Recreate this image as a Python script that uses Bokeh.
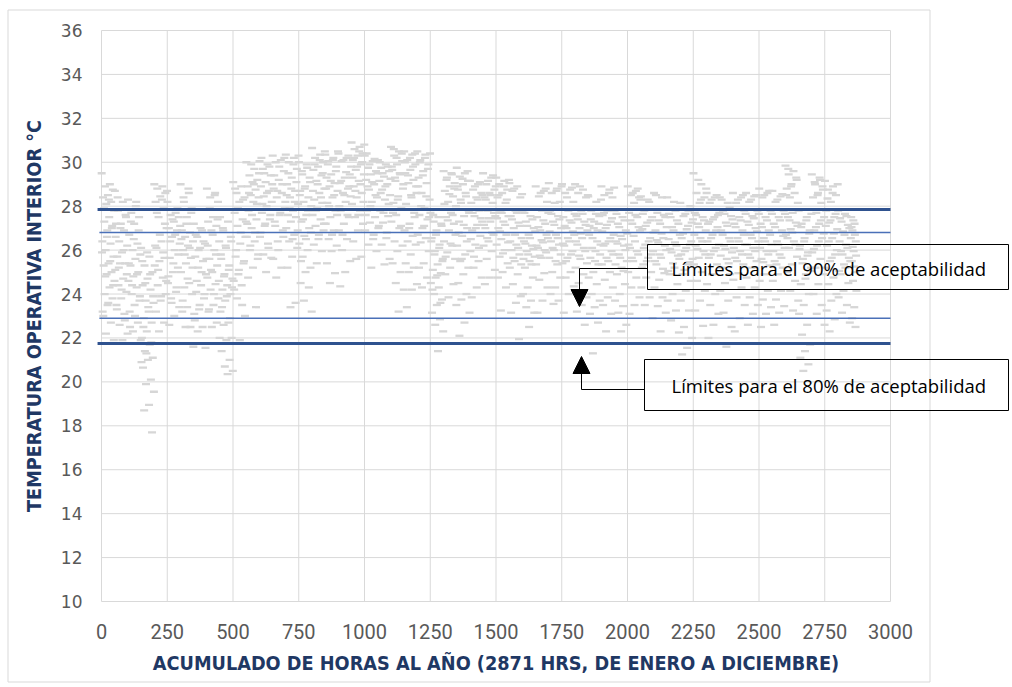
import numpy as np
from bokeh.plotting import figure
from bokeh.models import (Range1d, BoxAnnotation, Label, Arrow, NormalHead,
                          ColumnDataSource, FixedTicker, LinearAxis)
from bokeh.embed import file_html
from bokeh.resources import INLINE

# ---------------- data ----------------
# temperatures (°C) observed in each 50-hour block of the accumulated hours
t0000 = [29.5, 29.0, 28.9, 28.75, 28.5, 28.4, 28.2, 28.1, 27.8, 27.5, 27.3, 27.1, 26.9, 26.4, 26.3, 26.0, 25.7, 25.4, 25.3, 25.0, 24.9, 24.6, 24.3, 24.0, 23.8, 23.5, 23.2, 22.7, 22.2, 21.9,
         28.3, 27.9, 27.0, 26.6, 25.9, 25.5, 24.8, 24.4, 23.6, 23.0]
t0050 = [28.7, 28.2, 27.8, 27.5, 27.2, 27.2, 26.9, 26.4, 26.2, 25.9, 25.7, 25.4, 25.4, 25.1, 24.7, 24.4, 24.1, 23.8, 23.5, 23.1, 22.6, 22.2, 21.9,
         28.4, 27.6, 27.0, 26.6, 26.0, 25.2, 24.9, 24.2, 23.3, 22.8]
t0100 = [28.3, 28.2, 27.7, 27.5, 27.2, 26.7, 26.3, 26.0, 25.8, 25.6, 25.3, 25.0, 24.8, 24.6, 24.3, 24.0, 23.7, 23.5, 23.2, 22.7, 22.3, 21.9,
         28.0, 27.3, 26.9, 26.5, 25.4, 24.9, 24.4, 23.9, 23.0, 22.5]
t0150 = [26.1, 25.7, 25.3, 25.0, 24.7, 24.4, 24.2, 23.7, 23.6, 23.2, 22.9, 22.7, 22.3, 22.0, 21.7, 21.4, 21.1, 21.0, 20.65, 20.1, 19.9, 19.55, 18.95, 18.7, 17.7,
         25.9, 25.5, 24.9, 24.5, 23.9, 23.4, 22.5, 21.8, 21.3, 20.9]
t0200 = [29.0, 28.9, 28.8, 28.6, 28.45, 28.2, 27.9, 27.5, 27.0, 26.4, 26.1, 25.65, 25.5, 25.3, 24.75, 24.4, 24.0, 23.7, 23.2, 22.7, 22.3,
         28.7, 28.3, 27.7, 27.2, 26.7, 26.2, 25.9, 25.1, 24.6, 23.9]
t0250 = [28.2, 27.7, 27.6, 27.5, 27.3, 27.0, 26.9, 26.6, 26.3, 26.0, 25.65, 25.2, 25.0, 24.5, 24.1, 23.8, 23.4, 23.0, 22.6,
         27.9, 27.4, 27.1, 26.7, 26.4, 25.8, 25.4, 24.8, 24.3, 23.6]
t0300 = [29.0, 28.6, 28.2, 27.9, 27.5, 26.9, 26.8, 26.6, 26.4, 26.2, 26.0, 25.65, 25.4, 25.0, 24.5, 24.3, 24.0, 23.4, 23.2, 22.5, 22.5, 21.6,
         28.8, 28.4, 27.7, 27.2, 26.5, 26.1, 25.8, 25.2, 24.7, 23.7]
t0350 = [27.2, 26.9, 26.6, 26.3, 26.1, 25.7, 25.5, 25.2, 24.9, 24.4, 24.1, 23.8, 23.3, 23.1, 22.5, 22.3, 21.55,
         27.0, 26.7, 26.4, 26.0, 25.6, 25.0, 24.6, 24.0, 23.5, 22.8]
t0400 = [28.8, 28.6, 28.4, 28.2, 27.5, 27.3, 27.1, 26.9, 26.4, 26.0, 25.6, 25.3, 25.0, 24.75, 24.45, 24.2, 23.8, 23.5, 23.2, 22.7, 22.5, 22.0,
         28.5, 27.9, 27.4, 26.7, 26.2, 25.8, 25.1, 24.6, 24.0, 23.3]
t0450 = [27.5, 27.3, 26.9, 26.4, 26.1, 25.6, 25.3, 24.9, 24.7, 24.4, 24.2, 24.0, 23.7, 23.2, 22.7, 22.6, 22.0, 21.9, 21.4, 21.0, 20.7, 20.5, 20.35,
         27.0, 26.6, 26.2, 25.8, 25.1, 24.8, 24.3, 23.9, 23.4, 22.9]
t0500 = [29.1, 28.9, 28.6, 28.4, 28.2, 27.7, 27.4, 27.1, 26.6, 26.3, 25.7, 25.4, 24.9, 24.6, 24.4, 23.8, 23.0, 21.9,
         28.8, 28.3, 27.9, 27.3, 26.8, 26.0, 25.5, 25.1, 24.2, 23.5]
t0550 = [30.0, 29.7, 29.4, 29.2, 29.1, 28.9, 28.75, 28.5, 28.4, 28.2, 27.8, 27.4, 27.0, 26.6, 26.4, 26.0, 25.6, 25.2, 24.75, 23.4,
         29.9, 29.5, 29.0, 28.6, 28.1, 27.6, 27.2, 26.8, 26.2, 25.8]
t0600 = [30.05, 29.9, 29.7, 29.4, 29.1, 28.9, 28.7, 28.45, 28.2, 28.0, 27.7, 27.4, 27.1, 26.6, 26.3, 25.8, 25.65, 25.0,
         30.2, 29.8, 29.5, 29.0, 28.6, 28.1, 27.6, 27.2, 26.8, 26.1]
t0650 = [30.3, 30.1, 30.0, 29.6, 29.2, 28.8, 28.6, 28.4, 27.9, 27.6, 27.3, 26.9, 26.4, 25.6, 25.2, 24.75,
         30.2, 29.8, 29.4, 29.0, 28.7, 28.2, 27.7, 27.1, 26.6, 26.0]
t0700 = [30.35, 30.2, 30.0, 29.7, 29.3, 29.0, 28.7, 28.4, 28.1, 27.8, 27.6, 27.5, 27.3, 27.0, 26.7, 26.4, 26.1, 25.7, 25.2, 23.6, 23.4,
         30.3, 29.9, 29.5, 29.1, 28.8, 28.5, 28.2, 27.9, 26.9, 26.5]
t0750 = [30.0, 29.75, 29.45, 29.1, 28.9, 28.7, 28.4, 28.2, 28.0, 27.6, 27.3, 27.0, 26.65, 26.3, 26.0, 25.7, 25.2, 25.0, 24.5, 24.3, 23.7, 23.2,
         29.9, 29.6, 29.3, 28.8, 28.5, 27.8, 27.4, 26.8, 26.5, 25.5]
t0800 = [30.65, 30.35, 30.2, 30.0, 29.8, 29.65, 29.4, 29.15, 28.8, 28.6, 28.3, 28.15, 27.9, 27.6, 27.4, 27.1, 26.9, 26.5, 26.25, 25.95, 25.4,
         30.5, 30.1, 29.9, 29.5, 29.0, 28.7, 28.4, 27.8, 27.2, 26.7]
t0850 = [30.35, 30.2, 30.05, 29.8, 29.45, 29.3, 29.05, 28.9, 28.7, 28.4, 28.15, 27.8, 27.5, 27.2, 26.9, 26.5, 26.2, 25.95, 25.4, 24.95, 24.5,
         30.5, 30.1, 29.9, 29.6, 29.15, 28.8, 28.5, 28.0, 27.6, 26.7]
t0900 = [30.4, 30.2, 30.05, 29.45, 29.3, 29.05, 28.8, 28.6, 28.45, 28.2, 27.8, 27.5, 27.2, 26.9, 26.5, 26.0, 25.5, 25.0, 24.35,
         30.3, 30.1, 29.8, 29.55, 29.15, 28.9, 28.5, 28.0, 27.6, 26.7]
t0950 = [30.9, 30.7, 30.6, 30.4, 30.3, 30.1, 29.9, 29.65, 29.45, 29.15, 28.9, 28.6, 28.4, 28.1, 27.8, 27.5, 27.2, 26.9, 26.4, 25.7, 25.6,
         30.8, 30.5, 30.2, 30.0, 29.8, 29.3, 29.0, 28.7, 28.2, 27.6]
t1000 = [30.3, 30.05, 29.75, 29.6, 29.45, 29.2, 29.0, 28.75, 28.4, 28.2, 27.8, 27.5, 27.25, 26.9, 26.5, 26.25, 25.95, 25.2,
         30.4, 30.15, 29.9, 29.5, 29.1, 28.9, 28.5, 28.0, 27.6, 26.7]
t1050 = [30.1, 29.9, 29.75, 29.6, 29.35, 29.15, 29.0, 28.75, 28.5, 28.3, 27.8, 27.55, 27.25, 27.0, 26.55, 26.25, 25.6, 25.35,
         30.0, 29.8, 29.5, 29.25, 28.9, 28.6, 28.1, 27.7, 27.1, 26.8]
t1100 = [30.7, 30.5, 30.3, 30.05, 29.9, 29.65, 29.45, 29.15, 29.0, 28.45, 28.15, 27.9, 27.6, 27.3, 27.0, 26.4, 26.2, 25.95, 25.4, 25.0, 24.5, 24.2, 23.2,
         30.6, 30.4, 30.2, 29.8, 29.5, 29.3, 28.8, 28.3, 27.7, 27.1]
t1150 = [30.5, 30.35, 30.1, 29.9, 29.65, 29.5, 29.2, 29.05, 28.6, 28.4, 27.85, 27.5, 27.2, 26.9, 26.65, 26.4, 26.25, 25.8, 25.4, 25.2, 25.0, 24.45, 24.2, 23.4,
         30.4, 30.2, 30.0, 29.8, 29.4, 28.9, 28.5, 28.1, 27.7, 27.0]
t1200 = [30.5, 30.35, 30.1, 29.9, 29.6, 29.3, 29.05, 28.6, 28.3, 27.9, 27.6, 27.4, 27.0, 26.7, 26.55, 26.35, 25.95, 25.4, 25.2, 24.75, 24.3,
         30.4, 30.2, 30.0, 29.7, 29.4, 28.9, 28.45, 28.0, 27.5, 27.1]
t1250 = [27.7, 27.5, 27.3, 27.1, 26.9, 26.55, 26.25, 25.95, 25.6, 25.35, 25.1, 24.95, 24.75, 24.5, 24.3, 24.0, 23.75, 23.5, 23.15, 22.85, 22.6, 22.3, 21.4,
         27.6, 27.2, 26.7, 26.4, 26.1, 25.8, 25.5, 24.85, 24.2, 23.6]
t1300 = [29.6, 29.45, 29.3, 29.05, 28.9, 28.7, 28.45, 28.2, 28.0, 27.7, 27.5, 27.2, 26.9, 26.4, 26.2, 25.9, 25.6, 25.2, 24.9, 24.45, 23.85, 23.5,
         29.5, 29.2, 28.8, 28.55, 28.1, 27.6, 27.35, 26.7, 26.3, 25.7]
t1350 = [29.75, 29.5, 29.35, 29.15, 29.0, 28.75, 28.45, 28.15, 27.7, 27.55, 27.3, 27.0, 26.65, 26.2, 25.8, 25.5, 25.2, 24.9, 24.5, 24.0, 23.75, 23.15, 22.7, 22.1,
         29.6, 29.25, 28.9, 28.6, 28.3, 27.8, 27.15, 26.8, 26.4, 25.6]
t1400 = [29.15, 29.0, 28.75, 28.6, 28.4, 28.15, 27.8, 27.55, 27.3, 27.15, 26.9, 26.65, 26.25, 25.95, 25.5, 25.2, 24.75, 24.3, 23.85,
         29.1, 28.9, 28.5, 28.3, 27.7, 27.45, 27.0, 26.5, 26.1, 25.7]
t1450 = [29.5, 29.3, 29.0, 28.75, 28.6, 28.4, 28.15, 27.8, 27.55, 27.3, 27.0, 26.7, 26.4, 26.2, 25.95, 25.6, 25.1, 24.75, 24.45,
         29.4, 29.15, 28.9, 28.5, 28.3, 27.7, 27.45, 27.15, 26.8, 26.55]
t1500 = [29.3, 29.15, 29.0, 28.75, 28.6, 28.4, 28.15, 27.8, 27.55, 27.3, 27.0, 26.7, 26.5, 26.25, 26.0, 25.7, 25.4, 25.0, 24.75, 24.3, 23.25,
         29.2, 28.9, 28.5, 28.3, 27.7, 27.45, 27.15, 26.85, 26.35, 25.85]
t1550 = [29.05, 28.9, 28.7, 28.4, 27.8, 27.55, 27.25, 27.0, 26.55, 26.25, 26.0, 25.8, 25.5, 25.2, 24.9, 24.45, 23.9, 23.6, 23.15, 21.95,
         28.8, 28.55, 27.7, 27.4, 27.1, 26.7, 26.4, 26.1, 25.65, 25.35]
t1600 = [27.8, 27.55, 27.3, 27.0, 26.7, 26.4, 26.2, 25.95, 25.7, 25.5, 25.2, 24.75, 24.3, 24.0, 23.7, 23.4, 23.15, 22.5,
         27.7, 27.4, 27.1, 26.85, 26.55, 26.3, 26.05, 25.8, 25.6, 25.35]
t1650 = [28.9, 28.7, 28.45, 28.2, 27.8, 27.5, 27.2, 26.9, 26.55, 26.35, 26.1, 25.9, 25.65, 25.35, 24.95, 24.65, 24.3, 23.7, 23.15,
         28.8, 28.6, 27.7, 27.35, 27.05, 26.7, 26.45, 26.2, 26.0, 25.75]
t1700 = [29.05, 28.8, 28.6, 28.2, 28.15, 27.8, 27.55, 27.3, 27.0, 26.7, 26.4, 26.25, 26.0, 25.65, 25.35, 25.0, 24.75, 24.3, 24.0, 23.7, 23.55,
         28.9, 28.7, 27.65, 27.4, 27.15, 26.85, 26.55, 26.1, 25.8, 25.5]
t1750 = [29.0, 28.75, 28.6, 28.2, 27.8, 27.5, 27.25, 27.0, 26.7, 26.4, 26.2, 25.95, 25.65, 25.4, 25.0, 24.75, 24.35, 24.0, 23.15,
         28.85, 28.4, 27.65, 27.35, 27.1, 26.85, 26.55, 26.3, 25.8, 25.5]
t1800 = [29.0, 28.75, 28.6, 28.4, 27.8, 27.55, 27.3, 27.0, 26.9, 26.55, 26.25, 25.95, 25.6, 25.2, 24.9, 24.5, 23.85, 23.5, 23.2, 22.6,
         28.9, 28.5, 27.65, 27.4, 27.15, 26.75, 26.4, 26.1, 25.75, 25.4]
t1850 = [28.45, 28.2, 27.8, 27.55, 27.3, 27.1, 26.9, 26.55, 26.25, 25.95, 25.65, 25.35, 25.0, 24.75, 24.45, 24.0, 23.7, 23.4, 23.1, 22.7, 21.3,
         28.3, 27.65, 27.4, 27.2, 27.0, 26.7, 26.4, 26.1, 25.8, 25.5]
t1900 = [28.9, 28.75, 28.5, 28.4, 27.8, 27.6, 27.3, 27.0, 26.7, 26.4, 26.2, 25.95, 25.65, 25.35, 25.0, 24.65, 24.3, 23.85, 23.5, 23.1, 22.3,
         28.85, 28.6, 27.7, 27.45, 27.15, 26.85, 26.55, 26.3, 25.8, 25.5]
t1950 = [27.8, 27.5, 27.2, 26.9, 26.65, 26.4, 26.2, 25.8, 25.5, 25.2, 24.9, 24.45, 24.0, 23.7, 23.45, 23.15, 22.6, 22.3,
         27.65, 27.35, 27.05, 26.75, 26.5, 26.3, 26.0, 25.65, 25.35, 25.05]
t2000 = [28.9, 28.7, 28.5, 28.4, 28.15, 27.7, 27.5, 27.2, 26.9, 26.4, 26.1, 25.8, 25.5, 25.0, 24.75, 24.3, 23.85, 23.5, 23.1,
         28.8, 28.6, 28.3, 27.6, 27.35, 27.05, 26.65, 26.25, 25.95, 25.65]
t2050 = [28.45, 28.2, 27.8, 27.5, 27.25, 26.95, 26.55, 26.25, 25.95, 25.65, 25.35, 25.0, 24.75, 24.3, 23.85, 23.5, 22.9,
         28.3, 27.65, 27.35, 27.1, 26.8, 26.4, 26.1, 25.8, 25.5, 25.2]
t2100 = [28.6, 28.4, 27.7, 27.5, 27.2, 26.9, 26.55, 26.35, 26.0, 25.65, 25.35, 24.95, 24.65, 24.3, 23.85, 23.45, 23.15, 22.3,
         28.5, 27.6, 27.35, 27.05, 26.75, 26.45, 26.2, 25.8, 25.5, 25.15]
t2150 = [28.4, 27.8, 27.5, 27.2, 26.9, 26.5, 26.2, 25.9, 25.6, 25.2, 24.9, 24.45, 24.0, 23.7, 23.25, 22.8, 22.25,
         28.2, 27.65, 27.35, 27.05, 26.7, 26.35, 26.05, 25.75, 25.4, 25.05]
t2200 = [28.15, 27.8, 27.55, 27.25, 26.95, 26.55, 26.25, 25.95, 25.6, 25.35, 24.9, 24.6, 24.15, 23.7, 23.25, 22.5, 22.0, 21.55, 21.25,
         28.0, 27.65, 27.4, 27.1, 26.75, 26.4, 26.1, 25.8, 25.45, 25.1]
t2250 = [29.5, 29.0, 28.6, 28.4, 28.15, 27.7, 27.5, 27.2, 26.9, 26.55, 26.2, 25.95, 25.65, 25.35, 25.0, 24.6, 24.15, 23.7, 23.25, 22.55,
         29.2, 28.8, 28.3, 27.6, 27.35, 27.05, 26.7, 26.4, 26.05, 25.8]
t2300 = [28.6, 28.4, 28.15, 27.6, 27.4, 27.2, 26.9, 26.55, 26.25, 25.95, 25.65, 25.35, 24.9, 24.45, 24.0, 23.5, 23.1, 22.6, 22.0,
         28.5, 28.3, 27.7, 27.5, 27.3, 27.05, 26.7, 26.4, 26.1, 25.8]
t2350 = [28.4, 28.15, 27.8, 27.55, 27.25, 26.9, 26.55, 26.2, 25.9, 25.6, 25.2, 24.9, 24.5, 24.15, 23.7, 23.15, 22.5, 21.6,
         28.3, 27.95, 27.65, 27.4, 27.1, 26.7, 26.4, 26.05, 25.75, 25.4]
t2400 = [28.6, 28.4, 28.15, 27.8, 27.5, 27.2, 26.9, 26.55, 26.25, 25.95, 25.65, 25.35, 24.95, 24.65, 24.3, 23.85, 23.5, 22.9, 22.3,
         28.5, 28.3, 27.65, 27.35, 27.05, 26.7, 26.4, 26.1, 25.8, 25.5]
t2450 = [28.6, 28.45, 28.2, 27.8, 27.55, 27.3, 27.0, 26.7, 26.4, 26.1, 25.8, 25.5, 25.2, 24.75, 24.3, 23.85, 23.5, 23.1, 22.6,
         28.5, 28.3, 27.65, 27.45, 27.15, 26.85, 26.55, 26.25, 25.95, 25.65]
t2500 = [28.8, 28.6, 28.4, 27.8, 27.5, 27.2, 26.9, 26.55, 26.25, 25.95, 25.6, 25.3, 24.9, 24.6, 24.15, 23.75, 23.4, 23.1, 22.5,
         28.7, 28.5, 27.65, 27.35, 27.05, 26.7, 26.4, 26.1, 25.8, 25.45]
t2550 = [28.7, 28.45, 28.2, 27.8, 27.5, 27.2, 26.9, 26.4, 26.1, 25.8, 25.5, 25.2, 24.9, 24.6, 24.15, 23.75, 23.45, 23.15, 22.6,
         28.55, 28.3, 27.65, 27.35, 27.05, 26.65, 26.25, 25.95, 25.65, 25.35]
t2600 = [29.85, 29.6, 29.45, 29.2, 29.0, 28.8, 28.6, 28.4, 28.15, 27.7, 27.5, 27.25, 26.95, 26.7, 26.4, 26.1, 25.7, 25.35, 25.0, 24.6, 24.15, 23.7, 23.25,
         29.7, 29.3, 28.9, 28.5, 27.85, 27.35, 27.1, 26.8, 26.55, 26.25]
t2650 = [27.8, 27.5, 27.2, 26.9, 26.55, 26.2, 25.9, 25.6, 25.2, 24.9, 24.45, 24.0, 23.5, 23.1, 22.6, 22.15, 21.7, 21.4, 21.1, 20.8, 20.5,
         27.65, 27.35, 27.05, 26.75, 26.4, 26.05, 25.75, 25.4, 25.05, 24.7]
t2700 = [29.45, 29.2, 29.0, 28.75, 28.6, 28.4, 28.15, 27.7, 27.5, 27.2, 26.9, 26.55, 26.2, 25.9, 25.6, 25.2, 24.9, 24.45, 24.0, 23.5, 23.1, 22.6,
         29.3, 29.1, 28.9, 28.5, 27.85, 27.35, 27.05, 26.75, 26.4, 26.05]
t2750 = [29.15, 28.9, 28.75, 28.5, 28.2, 27.8, 27.5, 27.25, 26.95, 26.55, 26.2, 25.8, 25.5, 25.2, 24.75, 24.45, 24.0, 23.7, 23.25, 22.85, 22.3,
         29.0, 28.6, 28.35, 27.65, 27.35, 27.1, 26.75, 26.4, 26.0, 25.65]
t2800 = [27.8, 27.55, 27.3, 27.0, 26.7, 26.4, 26.1, 25.8, 25.5, 25.2, 24.9, 24.5, 24.15, 23.85, 23.5, 23.15, 22.7,
         27.65, 27.45, 27.15, 26.85, 26.55, 26.25, 25.95, 25.65, 25.35, 25.05]
t2850 = [27.5, 27.2, 26.9, 26.4, 25.95, 25.5, 25.0, 24.6, 24.15, 23.4, 22.9, 22.5,
         27.35, 27.05, 26.7, 26.15, 25.75, 25.25]

bloques = [t0000, t0050, t0100, t0150, t0200, t0250, t0300, t0350, t0400, t0450,
           t0500, t0550, t0600, t0650, t0700, t0750, t0800, t0850, t0900, t0950,
           t1000, t1050, t1100, t1150, t1200, t1250, t1300, t1350, t1400, t1450,
           t1500, t1550, t1600, t1650, t1700, t1750, t1800, t1850, t1900, t1950,
           t2000, t2050, t2100, t2150, t2200, t2250, t2300, t2350, t2400, t2450,
           t2500, t2550, t2600, t2650, t2700, t2750, t2800, t2850]
total_horas = 2871
limites_80 = [21.75, 27.85]   # thick lines
limites_90 = [22.9, 26.8]     # thin lines
x_ticks = list(range(0, 3001, 250))
y_ticks = list(range(10, 37, 2))
texto_90 = "Límites para el 90% de aceptabilidad"
texto_80 = "Límites para el 80% de aceptabilidad"
titulo_x = "ACUMULADO DE HORAS AL AÑO (2871 HRS, DE ENERO A DICIEMBRE)"
titulo_y = "TEMPERATURA OPERATIVA INTERIOR °C"

# hours: each block's readings are spread over the hours of that block
horas, temps = [], []
for b, vals in enumerate(bloques):
    start = b * 50
    width = min(50, total_horas - start)
    n = len(vals)
    frac = (np.arange(n) * 0.6180339887) % 1.0
    rank = np.argsort(np.argsort(frac))
    for i, v in enumerate(vals):
        horas.append(start + (rank[i] + 0.5) * width / n)
        temps.append(v)
src = ColumnDataSource(dict(h=horas, t=temps))

# ---------------- figure ----------------
# the plotting frame fills the whole canvas; the axes are pinned at x=0 / y=10
W, H = 1010, 685
X0, X1, Y0, Y1 = 101.0, 890.0, 30.0, 601.0      # pixel box of the 0..3000 x 10..36 area
def px(xp):
    return (xp - X0) * 3000.0 / (X1 - X0)
def py(yp):
    return 10 + (Y1 - yp) * 26.0 / (Y1 - Y0)

p = figure(width=W, height=H, output_backend="svg", toolbar_location=None,
           x_range=Range1d(px(0), px(W)), y_range=Range1d(py(H), py(0)),
           x_axis_location=None, y_axis_location=None,
           min_border=0, min_border_left=0, min_border_right=0,
           min_border_top=0, min_border_bottom=0,
           background_fill_color="white", border_fill_color="white")
p.outline_line_color = None
p.xgrid.visible = False
p.ygrid.visible = False

# grid lines (only inside 0..3000 x 10..36)
p.segment(x0=x_ticks, x1=x_ticks, y0=[y_ticks[0]] * len(x_ticks), y1=[y_ticks[-1]] * len(x_ticks),
          line_color="#D9D9D9", line_width=1)
p.segment(x0=[x_ticks[0]] * len(y_ticks), x1=[x_ticks[-1]] * len(y_ticks), y0=y_ticks, y1=y_ticks,
          line_color="#D9D9D9", line_width=1)

# axes pinned to the data box
xaxis = LinearAxis(fixed_location=10, bounds=(0, 3000), ticker=FixedTicker(ticks=x_ticks),
                   axis_label=titulo_x)
yaxis = LinearAxis(fixed_location=0, bounds=(10, 36), ticker=FixedTicker(ticks=y_ticks),
                   axis_label=titulo_y)
for ax in (xaxis, yaxis):
    ax.axis_line_color = None
    ax.major_tick_line_color = None
    ax.minor_tick_line_color = None
    ax.major_tick_out = 0
    ax.major_tick_in = 0
    ax.major_label_text_color = "#595959"
    ax.axis_label_text_color = "#1F3864"
    ax.axis_label_text_font_style = "bold"
    ax.axis_label_text_font = "Liberation Sans Narrow, DejaVu Sans Condensed, Roboto"
    ax.axis_label_text_font_size = "19.7px"
xaxis.major_label_text_font = "Liberation Sans Narrow, Roboto"
xaxis.major_label_text_font_size = "20px"
xaxis.major_label_standoff = 22
xaxis.axis_label_standoff = 10
yaxis.major_label_text_font = "DejaVu Sans"
yaxis.major_label_text_font_size = "17px"
yaxis.major_label_standoff = 19
yaxis.axis_label_standoff = 12
p.add_layout(xaxis, "below")
p.add_layout(yaxis, "left")

# scatter of hourly temperatures (short horizontal dashes)
p.scatter("h", "t", source=src, marker="dash", size=8, line_width=2.3,
          line_color="#D6D6D6")

# limit lines
p.segment(x0=[-15] * 2, x1=[3000] * 2, y0=limites_80, y1=limites_80,
          line_color="#2F528F", line_width=3)
p.segment(x0=[-8] * 2, x1=[3000] * 2, y0=limites_90, y1=limites_90,
          line_color="#4A70B8", line_width=1.5)

# outer chart border
p.add_layout(BoxAnnotation(left=px(7.5), right=px(929.5), top=py(9.5), bottom=py(681.5),
                           fill_alpha=0, line_color="#D9D9D9", line_alpha=1.0, line_width=1))

# annotation boxes
p.add_layout(BoxAnnotation(left=px(647), right=px(1008), top=py(244), bottom=py(289),
                           fill_alpha=0, line_color="#000000", line_alpha=1.0, line_width=1))
p.add_layout(BoxAnnotation(left=px(644), right=px(1008), top=py(359), bottom=py(410),
                           fill_alpha=0, line_color="#000000", line_alpha=1.0, line_width=1))
p.add_layout(Label(x=px(671), y=py(268), text=texto_90, text_font="Open Sans",
                   text_font_size="18.5px", text_baseline="middle", text_color="#000000"))
p.add_layout(Label(x=px(671), y=py(385), text=texto_80, text_font="Open Sans",
                   text_font_size="18.5px", text_baseline="middle", text_color="#000000"))

# connectors with arrow heads
p.add_layout(Arrow(end=None, x_start=px(647), y_start=py(268), x_end=px(579), y_end=py(268),
                   line_color="#000000", line_width=1))
p.add_layout(Arrow(end=NormalHead(size=17, fill_color="#000000", line_color="#000000"),
                   x_start=px(579), y_start=py(268), x_end=px(579), y_end=py(306),
                   line_color="#000000", line_width=1))
p.add_layout(Arrow(end=None, x_start=px(644), y_start=py(389), x_end=px(581), y_end=py(389),
                   line_color="#000000", line_width=1))
p.add_layout(Arrow(end=NormalHead(size=17, fill_color="#000000", line_color="#000000"),
                   x_start=px(581), y_start=py(389), x_end=px(581), y_end=py(356),
                   line_color="#000000", line_width=1))

open("out.html", "w").write(file_html(p, INLINE))
